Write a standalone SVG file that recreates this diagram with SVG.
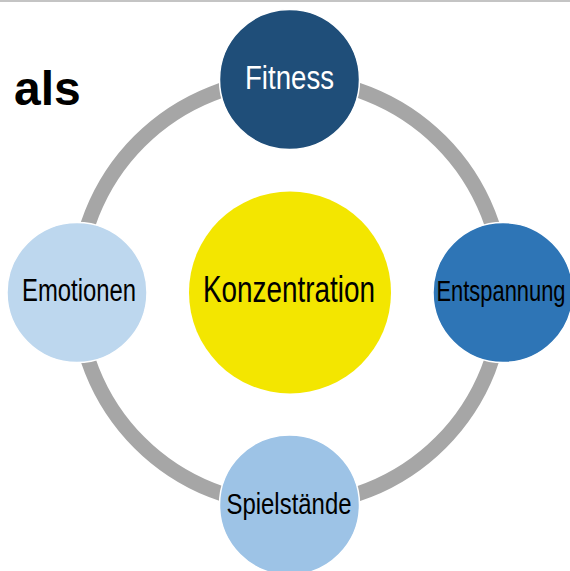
<svg xmlns="http://www.w3.org/2000/svg" width="570" height="571" viewBox="0 0 570 571">
<style>
.node{stroke:#ffffff;stroke-width:1.5}
.lbl{font-family:"Liberation Sans",Arial,sans-serif;text-anchor:middle}
</style>
<rect x="0" y="0" width="570" height="571" fill="#ffffff"/>
<rect x="0" y="0" width="570" height="2" fill="#c4c4c4"/>
<text x="14" y="105" font-family="Liberation Sans,Arial,sans-serif" font-weight="bold" font-size="48" fill="#000000">als</text>
<g id="connectors">
<circle cx="290" cy="292" r="213" fill="none" stroke="#a6a6a6" stroke-width="15"/>
</g>
<g id="konzentration">
<circle cx="290" cy="292.5" r="101" fill="#f3e600"/>
<text class="lbl" x="289" y="301.5" font-size="36" fill="#000000" textLength="172" lengthAdjust="spacingAndGlyphs">Konzentration</text>
</g>
<g id="fitness">
<circle class="node" cx="289.5" cy="79.5" r="70" fill="#1f4e79"/>
<text class="lbl" x="289.5" y="88.5" font-size="34" fill="#ffffff" textLength="89" lengthAdjust="spacingAndGlyphs">Fitness</text>
</g>
<g id="entspannung">
<circle class="node" cx="503" cy="292.5" r="70" fill="#2e75b6"/>
<text class="lbl" x="501" y="301" font-size="30" fill="#000000" textLength="129" lengthAdjust="spacingAndGlyphs">Entspannung</text>
</g>
<g id="spielstaende">
<circle class="node" cx="289.5" cy="505" r="70" fill="#9dc3e6"/>
<text class="lbl" x="289" y="514" font-size="30" fill="#000000" textLength="125" lengthAdjust="spacingAndGlyphs">Spielstände</text>
</g>
<g id="emotionen">
<circle class="node" cx="77" cy="292.5" r="70" fill="#bdd7ee"/>
<text class="lbl" x="79" y="300.7" font-size="31" fill="#000000" textLength="114" lengthAdjust="spacingAndGlyphs">Emotionen</text>
</g>
</svg>
